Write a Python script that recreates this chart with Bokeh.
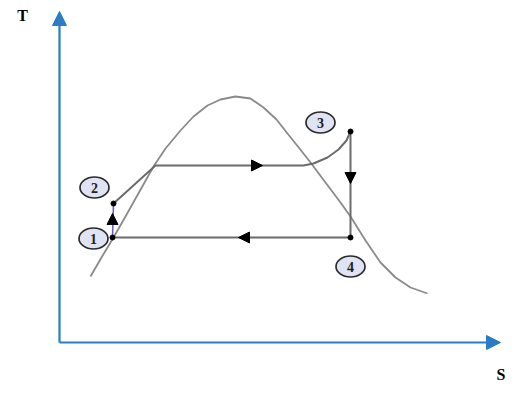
from bokeh.plotting import figure
from bokeh.models import Range1d, Arrow, NormalHead, ColumnDataSource
from bokeh.core.properties import value
from bokeh.embed import file_html
from bokeh.resources import INLINE

# Saturation dome (entropy s, temperature T) in diagram units
dome_s = [31, 42, 54, 66, 80, 94, 106, 121, 134, 148, 161, 176, 191, 204, 217,
          228, 240, 251, 266, 281, 291, 306, 321, 336, 351, 368]
dome_T = [66, 85, 105, 126, 151, 176, 194, 212, 226, 237, 243, 246, 244, 235, 223,
          209, 194, 180, 160, 140, 126, 102, 80, 65, 55, 49]

# Cycle state points 1..4
state_names = ["1", "2", "3", "4"]
state_s = [53, 54, 291, 291]
state_T = [105, 139, 211, 105]

# Process 2 -> 3 (heating, evaporation, superheating)
heat_s = [54, 96, 244, 254, 268, 279, 287, 291]
heat_T = [139, 177, 177, 179, 185, 193, 202, 211]

# Label bubble positions
label_s = [34, 35, 261, 291]
label_T = [104, 155, 220, 76]

# Flow-direction arrows (start, end)
arrow_s0 = [189, 291, 193, 53]
arrow_T0 = [177, 174, 105, 119]
arrow_s1 = [203, 291, 179, 53]
arrow_T1 = [177, 159, 105, 129]

# Axes
axis_len_s = 441
axis_len_T = 331
axis_names = ["S", "T"]

p = figure(width=508, height=386, output_backend="svg", toolbar_location=None,
           x_range=Range1d(-59, 449), y_range=Range1d(-44, 342),
           x_axis_location=None, y_axis_location=None, min_border=0)
p.grid.visible = False
p.outline_line_color = None
p.background_fill_color = "white"

axis_color = "#2a7cc7"
p.add_layout(Arrow(end=NormalHead(size=14, fill_color=axis_color, line_color=axis_color),
                   x_start=0, y_start=0, x_end=0, y_end=axis_len_T,
                   line_color=axis_color, line_width=2.2))
p.add_layout(Arrow(end=NormalHead(size=14, fill_color=axis_color, line_color=axis_color),
                   x_start=0, y_start=0, x_end=axis_len_s, y_end=0,
                   line_color=axis_color, line_width=2.2))

# dome
p.line(dome_s, dome_T, line_color="#8a8a8a", line_width=1.8)

# cycle
cyc = "#6b6b6b"
p.line(heat_s, heat_T, line_color=cyc, line_width=2)
p.line([state_s[2], state_s[3]], [state_T[2], state_T[3]], line_color=cyc, line_width=2)
p.line([state_s[3], state_s[0]], [state_T[3], state_T[0]], line_color=cyc, line_width=2)
p.line([state_s[0], state_s[1]], [state_T[0], state_T[1]], line_color="#6a60c8", line_width=1.6)

for a0, b0, a1, b1 in zip(arrow_s0, arrow_T0, arrow_s1, arrow_T1):
    p.add_layout(Arrow(end=NormalHead(size=11, fill_color="black", line_color="black"),
                       x_start=a0, y_start=b0, x_end=a1, y_end=b1,
                       line_alpha=0))

p.scatter(state_s, state_T, size=5, color="black")

src = ColumnDataSource(dict(x=label_s, y=label_T, t=state_names))
p.ellipse(x="x", y="y", width=29, height=21, width_units="screen", height_units="screen",
          source=src, fill_color="#dfe3f4", line_color="#2a2a2a", line_width=1.7)
p.text(x="x", y="y", text="t", source=src, text_align="center", text_baseline="middle",
       text_font=value("Liberation Serif"), text_font_style="bold", text_font_size="14px",
       text_color="#222222")

p.text(x=[-37], y=[327], text=[axis_names[1]], text_align="center", text_baseline="middle",
       text_font=value("Liberation Serif"), text_font_style="bold", text_font_size="16px",
       text_color="black")
p.text(x=[446], y=[-32], text=[axis_names[0]], text_align="right", text_baseline="middle",
       text_font=value("Liberation Serif"), text_font_style="bold", text_font_size="16px",
       text_color="black")

open("out.html", "w").write(file_html(p, INLINE))
